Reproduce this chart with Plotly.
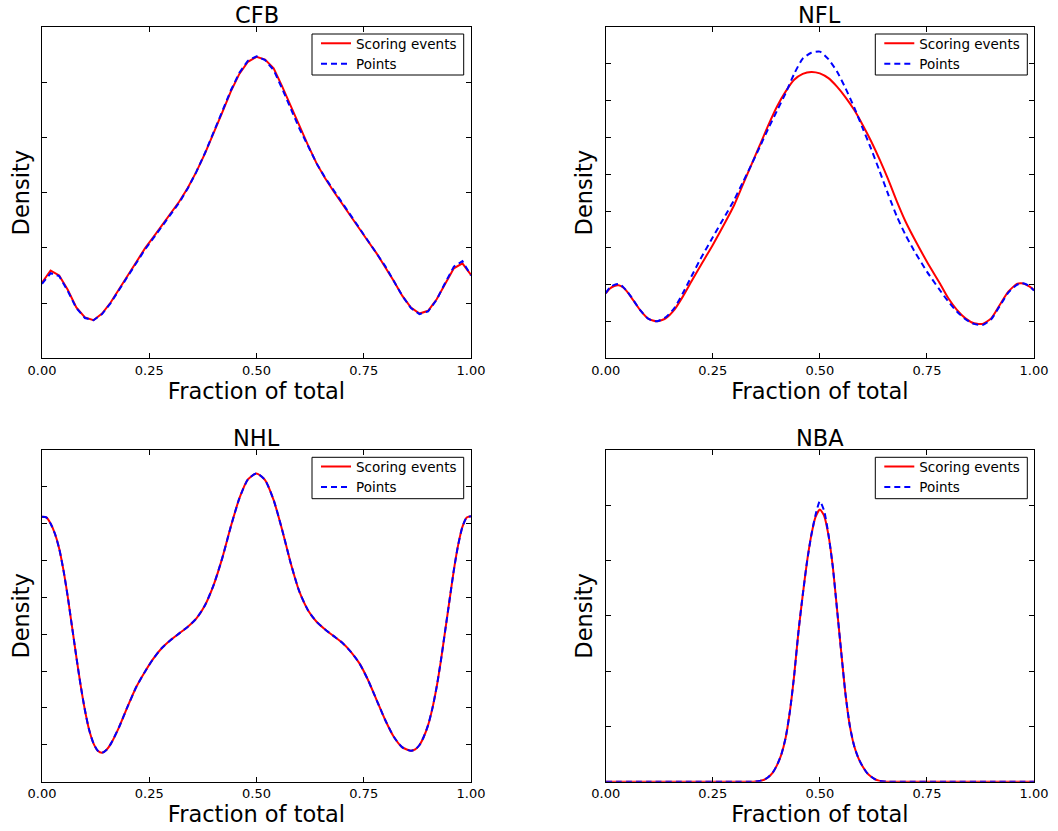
import plotly.graph_objects as go

# ---------------- data ----------------
cfb_x = [0.00, 0.02, 0.04, 0.06, 0.08, 0.10, 0.12, 0.14, 0.16, 0.18, 0.20, 0.22, 0.24, 0.26, 0.28,
         0.30, 0.32, 0.34, 0.36, 0.38, 0.40, 0.42, 0.44, 0.46, 0.48, 0.50, 0.52, 0.54, 0.56, 0.58,
         0.60, 0.62, 0.64, 0.66, 0.68, 0.70, 0.72, 0.74, 0.76, 0.78, 0.80, 0.82, 0.84, 0.86, 0.88,
         0.90, 0.92, 0.94, 0.96, 0.98, 1.00]
cfb_events = [0.685, 0.795, 0.750, 0.620, 0.460, 0.370, 0.345, 0.405, 0.505, 0.625, 0.755, 0.875, 0.995,
              1.100, 1.205, 1.315, 1.420, 1.545, 1.690, 1.855, 2.035, 2.225, 2.415, 2.575, 2.685, 2.730,
              2.705, 2.625, 2.460, 2.280, 2.095, 1.930, 1.765, 1.630, 1.510, 1.395, 1.280, 1.170, 1.060,
              0.950, 0.830, 0.700, 0.565, 0.460, 0.405, 0.430, 0.535, 0.680, 0.815, 0.860, 0.755]
cfb_points = [0.675, 0.770, 0.745, 0.610, 0.455, 0.365, 0.345, 0.400, 0.500, 0.620, 0.750, 0.865, 0.985,
              1.090, 1.195, 1.305, 1.410, 1.540, 1.690, 1.860, 2.040, 2.235, 2.425, 2.585, 2.695, 2.735,
              2.700, 2.610, 2.440, 2.260, 2.080, 1.925, 1.765, 1.635, 1.520, 1.405, 1.290, 1.175, 1.065,
              0.955, 0.835, 0.700, 0.565, 0.455, 0.400, 0.425, 0.530, 0.685, 0.830, 0.880, 0.750]

nfl_x = [0.00, 0.01, 0.02, 0.03, 0.04, 0.05, 0.06, 0.08, 0.10, 0.12, 0.14, 0.16, 0.18, 0.20, 0.22,
         0.25, 0.28, 0.30, 0.32, 0.34, 0.36, 0.38, 0.40, 0.42, 0.44, 0.46, 0.48, 0.50, 0.52, 0.54,
         0.56, 0.58, 0.60, 0.62, 0.64, 0.66, 0.68, 0.70, 0.72, 0.75, 0.78, 0.80, 0.82, 0.84, 0.86,
         0.88, 0.90, 0.92, 0.94, 0.96, 0.97, 0.98, 0.99, 1.00]
nfl_events = [0.353, 0.379, 0.393, 0.397, 0.386, 0.362, 0.330, 0.263, 0.214, 0.201, 0.217, 0.263, 0.335,
              0.417, 0.498, 0.616, 0.743, 0.833, 0.942, 1.051, 1.159, 1.268, 1.368, 1.449, 1.513, 1.545,
              1.556, 1.548, 1.522, 1.476, 1.418, 1.350, 1.268, 1.178, 1.078, 0.969, 0.851, 0.743, 0.652,
              0.525, 0.408, 0.326, 0.263, 0.217, 0.190, 0.187, 0.217, 0.290, 0.362, 0.404, 0.408, 0.402,
              0.389, 0.371]
nfl_points = [0.353, 0.386, 0.399, 0.404, 0.389, 0.364, 0.332, 0.263, 0.214, 0.201, 0.223, 0.272, 0.353,
              0.444, 0.534, 0.658, 0.779, 0.861, 0.955, 1.051, 1.150, 1.250, 1.345, 1.440, 1.545, 1.628,
              1.660, 1.666, 1.625, 1.558, 1.467, 1.364, 1.250, 1.136, 1.014, 0.888, 0.770, 0.670, 0.585,
              0.471, 0.371, 0.308, 0.254, 0.212, 0.187, 0.181, 0.212, 0.284, 0.357, 0.399, 0.408, 0.404,
              0.390, 0.368]

nhl_x = [0.00, 0.01, 0.02, 0.03, 0.04, 0.05, 0.06, 0.07, 0.08, 0.09, 0.10, 0.11, 0.12, 0.13, 0.14,
         0.15, 0.16, 0.18, 0.20, 0.22, 0.24, 0.26, 0.28, 0.30, 0.32, 0.34, 0.36, 0.38, 0.40, 0.42,
         0.44, 0.46, 0.48, 0.50, 0.52, 0.54, 0.56, 0.58, 0.60, 0.62, 0.64, 0.66, 0.68, 0.70, 0.72,
         0.74, 0.76, 0.78, 0.80, 0.82, 0.84, 0.86, 0.87, 0.88, 0.89, 0.90, 0.91, 0.92, 0.93, 0.94,
         0.95, 0.96, 0.97, 0.98, 0.99, 1.00]
nhl_events = [1.438, 1.434, 1.401, 1.347, 1.266, 1.148, 1.004, 0.841, 0.678, 0.524, 0.389, 0.280, 0.208,
              0.168, 0.157, 0.172, 0.204, 0.298, 0.410, 0.515, 0.597, 0.669, 0.727, 0.769, 0.805, 0.841,
              0.886, 0.958, 1.067, 1.212, 1.383, 1.537, 1.640, 1.673, 1.637, 1.528, 1.365, 1.184, 1.031,
              0.931, 0.868, 0.826, 0.790, 0.754, 0.705, 0.642, 0.552, 0.443, 0.335, 0.244, 0.186, 0.168,
              0.175, 0.199, 0.244, 0.307, 0.398, 0.515, 0.660, 0.823, 0.986, 1.148, 1.284, 1.383, 1.434,
              1.441]
nhl_points = [1.438, 1.434, 1.401, 1.347, 1.266, 1.148, 1.004, 0.841, 0.678, 0.524, 0.389, 0.280, 0.208,
              0.168, 0.157, 0.172, 0.204, 0.298, 0.410, 0.515, 0.597, 0.669, 0.727, 0.769, 0.805, 0.841,
              0.886, 0.958, 1.067, 1.212, 1.383, 1.537, 1.640, 1.673, 1.637, 1.528, 1.365, 1.184, 1.031,
              0.931, 0.868, 0.826, 0.790, 0.754, 0.705, 0.642, 0.552, 0.443, 0.335, 0.244, 0.186, 0.168,
              0.175, 0.199, 0.244, 0.307, 0.398, 0.515, 0.660, 0.823, 0.986, 1.148, 1.284, 1.383, 1.434,
              1.441]

nba_x = [0.00, 0.10, 0.20, 0.30, 0.34, 0.35, 0.36, 0.37, 0.38, 0.39, 0.40, 0.41, 0.42, 0.43, 0.44,
         0.45, 0.46, 0.47, 0.48, 0.49, 0.50, 0.51, 0.52, 0.53, 0.54, 0.55, 0.56, 0.57, 0.58, 0.59,
         0.60, 0.61, 0.62, 0.63, 0.64, 0.65, 0.66, 0.70, 0.80, 0.90, 1.00]
nba_events = [0.0, 0.0, 0.0, 0.0, 0.0, 0.01, 0.03, 0.07, 0.17, 0.33, 0.60, 0.98, 1.58, 2.54, 3.84,
              5.42, 6.75, 7.95, 8.91, 9.58, 9.85, 9.62, 8.93, 7.81, 6.26, 4.67, 3.15, 2.02, 1.30, 0.85,
              0.55, 0.32, 0.18, 0.08, 0.03, 0.01, 0.0, 0.0, 0.0, 0.0, 0.0]
nba_points = [0.0, 0.0, 0.0, 0.0, 0.0, 0.01, 0.03, 0.07, 0.17, 0.33, 0.60, 0.98, 1.58, 2.54, 3.84,
              5.42, 6.75, 7.95, 8.91, 9.66, 10.15, 9.80, 8.95, 7.81, 6.26, 4.67, 3.15, 2.02, 1.30, 0.85,
              0.55, 0.32, 0.18, 0.08, 0.03, 0.01, 0.0, 0.0, 0.0, 0.0, 0.0]

panel_titles = ["CFB", "NFL", "NHL", "NBA"]
legend_names = ["Scoring events", "Points"]
x_tickvals = [0.0, 0.25, 0.5, 0.75, 1.0]
x_ticktext = ["0.00", "0.25", "0.50", "0.75", "1.00"]
y_ranges = [(0, 3.0), (0, 1.8), (0, 1.8), (0, 12.0)]
y_dticks = [0.5, 0.2, 0.2, 2.0]

series = [
    (cfb_x, cfb_events, cfb_points, "linear"),
    (nfl_x, nfl_events, nfl_points, "spline"),
    (nhl_x, nhl_events, nhl_points, "spline"),
    (nba_x, nba_events, nba_points, "spline"),
]

# ---------------- layout geometry (window pixels) ----------------
FONT = "DejaVu Sans"
FIG_W, FIG_H = 1058, 831


def px(X):
    return X / FIG_W


def py(Y):
    return (FIG_H - Y) / FIG_H


# plot area boxes: left, right, top, bottom
boxes = [(42, 471, 27, 358.3), (605.7, 1034, 27, 358.3),
         (42, 471, 450, 781.7), (605.7, 1034, 450, 781.7)]
# legend frames: left, right, top, bottom
legend_frames = [(312, 463.7, 34, 75), (875.3, 1027.3, 34, 75),
                 (312, 463.7, 457.3, 498.7), (875.3, 1027.3, 457.3, 498.7)]

fig = go.Figure()
layout = dict(
    width=FIG_W, height=FIG_H,
    margin=dict(l=0, r=0, t=0, b=0, autoexpand=False),
    paper_bgcolor="white", plot_bgcolor="white",
    font=dict(family=FONT, color="black"),
    annotations=[], shapes=[],
)

for i, (xs, ev, pts, shape) in enumerate(series):
    n = i + 1
    xa = "x" if n == 1 else f"x{n}"
    ya = "y" if n == 1 else f"y{n}"
    lg = "legend" if n == 1 else f"legend{n}"
    fig.add_trace(go.Scatter(
        x=xs, y=ev, mode="lines", name=legend_names[0],
        line=dict(color="#ff0000", width=2, shape=shape, smoothing=0.6),
        xaxis=xa, yaxis=ya, legend=lg,
    ))
    fig.add_trace(go.Scatter(
        x=xs, y=pts, mode="lines", name=legend_names[1],
        line=dict(color="#0000ff", width=2, dash="6px,4px", shape=shape, smoothing=0.6),
        xaxis=xa, yaxis=ya, legend=lg,
    ))
    L, R, T, B = boxes[i]
    xkey = "xaxis" if n == 1 else f"xaxis{n}"
    ykey = "yaxis" if n == 1 else f"yaxis{n}"
    layout[xkey] = dict(
        domain=[px(L), px(R)], anchor=ya, range=[0, 1], automargin=False,
        tickmode="array", tickvals=x_tickvals, ticktext=x_ticktext,
        ticks="inside", ticklen=5, tickwidth=1, tickcolor="black",
        showline=True, linecolor="black", linewidth=1, mirror="ticks",
        showgrid=False, zeroline=False,
        tickfont=dict(family=FONT, size=13, color="black"),
        title=dict(text="Fraction of total", font=dict(family=FONT, size=22.5, color="black"), standoff=1),
    )
    layout[ykey] = dict(
        domain=[py(B), py(T)], anchor=xa, range=list(y_ranges[i]), automargin=False,
        tick0=0, dtick=y_dticks[i], showticklabels=False,
        ticks="inside", ticklen=5, tickwidth=1, tickcolor="black",
        showline=True, linecolor="black", linewidth=1, mirror="ticks",
        showgrid=False, zeroline=False,
        title=dict(text="Density", font=dict(family=FONT, size=22.5, color="black"), standoff=5),
    )
    # legend frame (drawn as a box) and legend entries inside it
    fl, fr, ft, fb = legend_frames[i]
    layout["shapes"].append(dict(
        type="rect", xref="paper", yref="paper",
        x0=px(fl), x1=px(fr), y0=py(fb), y1=py(ft),
        line=dict(color="black", width=1), fillcolor="white", layer="above",
    ))
    layout[lg] = dict(
        x=px(fl + 4), y=py(ft - 6), xanchor="left", yanchor="top",
        bgcolor="rgba(0,0,0,0)", borderwidth=0,
        font=dict(family=FONT, size=13.5, color="black"),
        tracegroupgap=0,
    )
    layout["annotations"].append(dict(
        text=panel_titles[i], xref="paper", yref="paper",
        x=(px(L) + px(R)) / 2, y=py(T),
        xanchor="center", yanchor="bottom", showarrow=False, yshift=-3,
        font=dict(family=FONT, size=22.5, color="black"),
    ))

fig.update_layout(**layout)
# remove the page's default 8px body margin so the figure fills the window exactly
fig.write_html(
    "out.html",
    config={"displayModeBar": False},
    post_script="document.body.style.margin='0';document.body.style.overflow='hidden';",
)
